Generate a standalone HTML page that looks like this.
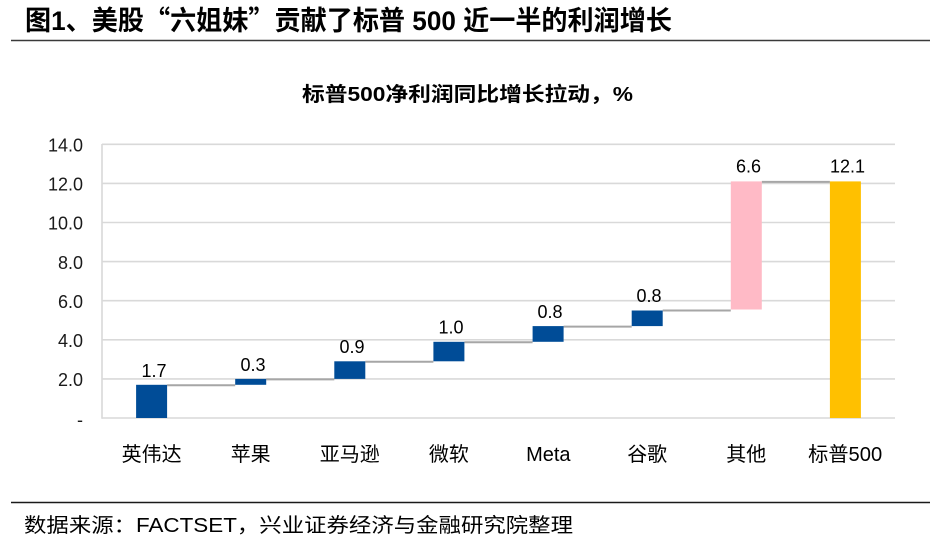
<!DOCTYPE html>
<html>
<head>
<meta charset="utf-8">
<style>
  html,body{margin:0;padding:0;background:#fff;}
  svg{display:block;}
  .cjk{font-family:"Liberation Sans","Noto Sans CJK SC",sans-serif;}
</style>
</head>
<body>
<svg width="945" height="546" viewBox="0 0 945 546" xmlns="http://www.w3.org/2000/svg">
  <rect x="0" y="0" width="945" height="546" fill="#fff"/>

  <!-- Main title -->
  <text class="cjk" x="25" y="30" font-size="27" font-weight="bold" fill="#000" textLength="647" lengthAdjust="spacingAndGlyphs">图1、美股<tspan font-family="Noto Sans CJK SC, sans-serif">“</tspan>六姐妹<tspan font-family="Noto Sans CJK SC, sans-serif">”</tspan>贡献了标普 500 近一半的利润增长</text>
  <line x1="11" y1="40.5" x2="930" y2="40.5" stroke="#3a3a3a" stroke-width="1.6"/>

  <!-- Chart title -->
  <text class="cjk" x="302" y="101" font-size="20" font-weight="bold" fill="#000" textLength="331" lengthAdjust="spacingAndGlyphs">标普500净利润同比增长拉动，%</text>

  <!-- Gridlines -->
  <g stroke="#d9d9d9" stroke-width="1.6">
    <line x1="102" y1="144.3" x2="895" y2="144.3"/>
    <line x1="102" y1="183.4" x2="895" y2="183.4"/>
    <line x1="102" y1="222.5" x2="895" y2="222.5"/>
    <line x1="102" y1="261.6" x2="895" y2="261.6"/>
    <line x1="102" y1="300.7" x2="895" y2="300.7"/>
    <line x1="102" y1="339.8" x2="895" y2="339.8"/>
    <line x1="102" y1="378.9" x2="895" y2="378.9"/>
    <line x1="102" y1="418" x2="895" y2="418"/>
    <line x1="102" y1="144" x2="102" y2="418.8"/>
  </g>

  <!-- Y-axis labels -->
  <g font-family="Liberation Sans, sans-serif" font-size="18" fill="#1a1a1a" text-anchor="end">
    <text x="83" y="151.5">14.0</text>
    <text x="83" y="190.6">12.0</text>
    <text x="83" y="229.7">10.0</text>
    <text x="83" y="268.8">8.0</text>
    <text x="83" y="307.9">6.0</text>
    <text x="83" y="347">4.0</text>
    <text x="83" y="386.1">2.0</text>
    <text x="83" y="426">-</text>
  </g>

  <!-- Connector lines -->
  <g stroke="#a6a6a6" stroke-width="2">
    <line x1="167.1" y1="385.3" x2="235.2" y2="385.3"/>
    <line x1="266.2" y1="379.4" x2="334.3" y2="379.4"/>
    <line x1="365.3" y1="361.8" x2="433.4" y2="361.8"/>
    <line x1="464.4" y1="342.3" x2="532.6" y2="342.3"/>
    <line x1="563.6" y1="326.6" x2="631.7" y2="326.6"/>
    <line x1="662.7" y1="310.5" x2="730.8" y2="310.5"/>
    <line x1="761.8" y1="181.9" x2="829.9" y2="181.9"/>
  </g>

  <!-- Bars -->
  <g>
    <rect x="136.1" y="384.8" width="31" height="33.2" fill="#004c97"/>
    <rect x="235.2" y="378.9" width="31" height="5.9" fill="#004c97"/>
    <rect x="334.3" y="361.3" width="31" height="17.6" fill="#004c97"/>
    <rect x="433.4" y="341.8" width="31" height="19.5" fill="#004c97"/>
    <rect x="532.6" y="326.1" width="31" height="15.7" fill="#004c97"/>
    <rect x="631.7" y="310.5" width="31" height="15.6" fill="#004c97"/>
    <rect x="730.8" y="181.4" width="31" height="128.1" fill="#ffbac6"/>
    <rect x="829.9" y="181.4" width="31" height="236.6" fill="#ffc000"/>
  </g>

  <!-- Data labels -->
  <g font-family="Liberation Sans, sans-serif" font-size="18" fill="#000" text-anchor="middle">
    <text x="154" y="377">1.7</text>
    <text x="253" y="371">0.3</text>
    <text x="352" y="353">0.9</text>
    <text x="451" y="333.5">1.0</text>
    <text x="550" y="318">0.8</text>
    <text x="649" y="302">0.8</text>
    <text x="748.5" y="172.5">6.6</text>
    <text x="847.5" y="172.5">12.1</text>
  </g>

  <!-- X-axis labels -->
  <g class="cjk" font-size="20" fill="#000" text-anchor="middle">
    <text x="151.6" y="461">英伟达</text>
    <text x="250.7" y="461">苹果</text>
    <text x="349.8" y="461">亚马逊</text>
    <text x="448.9" y="461">微软</text>
    <text x="548.3" y="461">Meta</text>
    <text x="647.2" y="461">谷歌</text>
    <text x="746.3" y="461">其他</text>
    <text x="845.2" y="461" textLength="74" lengthAdjust="spacingAndGlyphs">标普500</text>
  </g>

  <!-- Footer -->
  <line x1="11" y1="502.5" x2="930" y2="502.5" stroke="#1a1a1a" stroke-width="1.6"/>
  <text class="cjk" x="24" y="532" font-size="20" fill="#000" textLength="549" lengthAdjust="spacingAndGlyphs">数据来源：FACTSET，兴业证券经济与金融研究院整理</text>
</svg>
</body>
</html>
